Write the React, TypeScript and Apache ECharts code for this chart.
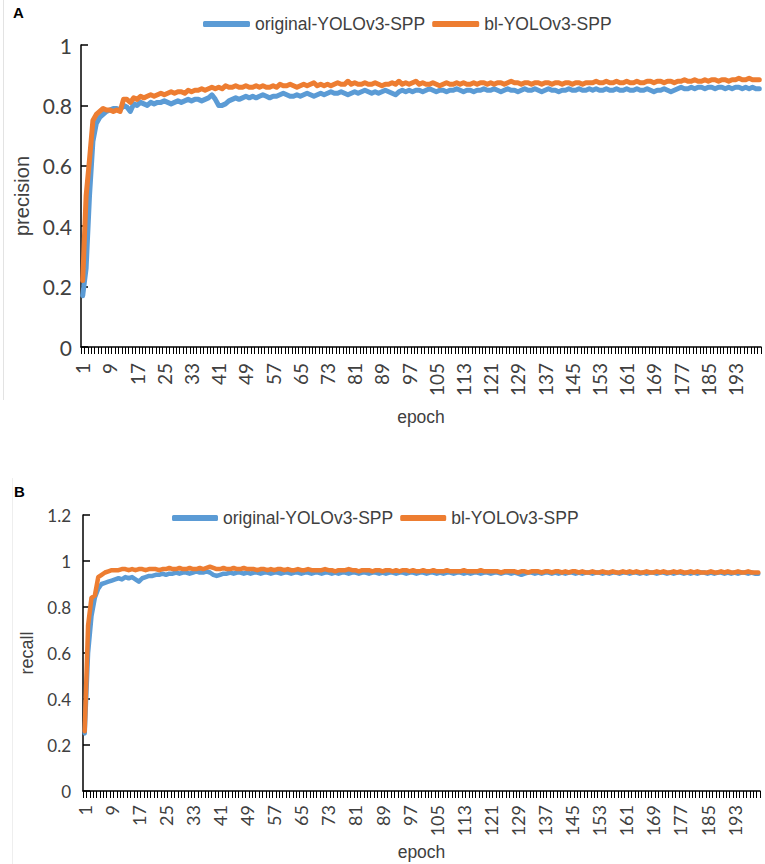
import React, { useEffect, useRef } from "react";
import * as echarts from "echarts";

const epochs: string[] = Array.from({ length: 200 }, (_, i) => String(i + 1));

const seriesNames = ["original-YOLOv3-SPP", "bl-YOLOv3-SPP"];

const precisionOriginal = [
  0.17,0.26,0.50,0.68,0.74,0.76,0.77,0.78,0.785,0.79,
  0.79,0.785,0.80,0.795,0.78,0.805,0.80,0.81,0.805,0.80,
  0.81,0.805,0.81,0.81,0.815,0.81,0.805,0.81,0.815,0.81,
  0.815,0.82,0.815,0.82,0.82,0.815,0.82,0.825,0.835,0.82,
  0.80,0.80,0.805,0.815,0.82,0.825,0.82,0.825,0.83,0.825,
  0.83,0.825,0.83,0.835,0.83,0.825,0.83,0.83,0.835,0.84,
  0.835,0.83,0.83,0.835,0.83,0.835,0.84,0.835,0.83,0.835,
  0.84,0.835,0.84,0.845,0.84,0.84,0.845,0.84,0.835,0.84,
  0.845,0.84,0.845,0.85,0.845,0.84,0.845,0.84,0.845,0.85,
  0.845,0.84,0.835,0.845,0.85,0.845,0.85,0.845,0.85,0.85,
  0.845,0.85,0.855,0.85,0.845,0.85,0.85,0.845,0.85,0.85,
  0.855,0.85,0.845,0.85,0.85,0.845,0.85,0.85,0.855,0.85,
  0.85,0.855,0.85,0.845,0.85,0.855,0.85,0.85,0.845,0.85,
  0.855,0.85,0.85,0.855,0.85,0.845,0.85,0.855,0.85,0.85,
  0.845,0.85,0.85,0.855,0.85,0.85,0.855,0.85,0.85,0.855,
  0.85,0.855,0.85,0.85,0.855,0.85,0.85,0.855,0.85,0.85,
  0.855,0.85,0.85,0.855,0.85,0.85,0.855,0.85,0.845,0.85,
  0.85,0.855,0.85,0.845,0.85,0.855,0.86,0.855,0.855,0.86,
  0.855,0.86,0.86,0.855,0.86,0.86,0.855,0.86,0.86,0.855,
  0.86,0.855,0.86,0.86,0.855,0.86,0.855,0.86,0.855,0.855,
];

const precisionBl = [
  0.22,0.50,0.62,0.75,0.77,0.78,0.79,0.785,0.785,0.78,
  0.785,0.78,0.82,0.82,0.81,0.825,0.82,0.83,0.825,0.83,
  0.835,0.83,0.835,0.84,0.835,0.84,0.845,0.84,0.845,0.845,
  0.84,0.85,0.845,0.85,0.85,0.855,0.85,0.855,0.86,0.855,
  0.86,0.855,0.865,0.86,0.86,0.865,0.86,0.86,0.865,0.86,
  0.86,0.865,0.86,0.865,0.86,0.86,0.865,0.86,0.87,0.865,
  0.865,0.87,0.865,0.86,0.865,0.87,0.865,0.87,0.875,0.865,
  0.87,0.865,0.87,0.865,0.87,0.875,0.87,0.87,0.88,0.87,
  0.875,0.87,0.87,0.875,0.87,0.87,0.875,0.87,0.865,0.87,
  0.87,0.875,0.87,0.88,0.87,0.875,0.87,0.875,0.88,0.87,
  0.875,0.87,0.87,0.875,0.87,0.865,0.87,0.875,0.87,0.87,
  0.875,0.87,0.875,0.87,0.87,0.875,0.87,0.875,0.875,0.87,
  0.875,0.87,0.875,0.875,0.87,0.875,0.88,0.875,0.875,0.87,
  0.875,0.875,0.87,0.875,0.875,0.87,0.875,0.875,0.87,0.875,
  0.875,0.87,0.875,0.875,0.87,0.875,0.875,0.87,0.875,0.875,
  0.875,0.88,0.875,0.875,0.88,0.875,0.875,0.88,0.875,0.875,
  0.88,0.875,0.875,0.88,0.875,0.875,0.88,0.88,0.875,0.88,
  0.88,0.875,0.88,0.88,0.875,0.88,0.88,0.885,0.88,0.88,
  0.885,0.88,0.88,0.885,0.88,0.885,0.885,0.88,0.885,0.885,
  0.88,0.885,0.885,0.89,0.885,0.885,0.89,0.885,0.885,0.885,
];

const recallOriginal = [
  0.25,0.60,0.76,0.84,0.88,0.90,0.905,0.91,0.915,0.92,
  0.925,0.92,0.93,0.925,0.93,0.92,0.91,0.925,0.93,0.935,
  0.935,0.94,0.94,0.945,0.94,0.945,0.945,0.95,0.945,0.95,
  0.95,0.945,0.95,0.955,0.95,0.95,0.955,0.95,0.94,0.935,
  0.94,0.945,0.945,0.95,0.945,0.95,0.95,0.945,0.95,0.945,
  0.95,0.95,0.945,0.95,0.95,0.945,0.95,0.95,0.945,0.95,
  0.95,0.945,0.95,0.95,0.945,0.95,0.95,0.945,0.95,0.95,
  0.945,0.95,0.95,0.945,0.95,0.945,0.95,0.95,0.945,0.95,
  0.95,0.945,0.95,0.95,0.945,0.95,0.95,0.945,0.95,0.945,
  0.95,0.95,0.945,0.95,0.95,0.945,0.95,0.95,0.945,0.95,
  0.95,0.945,0.95,0.95,0.945,0.95,0.945,0.95,0.95,0.945,
  0.95,0.95,0.945,0.95,0.945,0.95,0.95,0.945,0.95,0.95,
  0.945,0.95,0.95,0.945,0.95,0.95,0.945,0.95,0.945,0.94,
  0.945,0.95,0.95,0.945,0.95,0.945,0.95,0.95,0.945,0.95,
  0.945,0.95,0.945,0.95,0.95,0.945,0.95,0.945,0.95,0.95,
  0.945,0.95,0.95,0.945,0.95,0.945,0.95,0.95,0.945,0.95,
  0.95,0.945,0.95,0.95,0.945,0.95,0.945,0.95,0.95,0.945,
  0.95,0.95,0.945,0.95,0.945,0.95,0.95,0.945,0.95,0.945,
  0.95,0.945,0.95,0.95,0.945,0.95,0.945,0.95,0.95,0.945,
  0.95,0.945,0.95,0.945,0.95,0.95,0.945,0.95,0.945,0.945,
];

const recallBl = [
  0.26,0.72,0.84,0.85,0.93,0.94,0.95,0.955,0.96,0.96,
  0.96,0.965,0.965,0.96,0.965,0.96,0.965,0.965,0.96,0.965,
  0.965,0.965,0.96,0.965,0.965,0.97,0.965,0.965,0.97,0.965,
  0.965,0.97,0.965,0.965,0.97,0.965,0.97,0.975,0.97,0.965,
  0.965,0.97,0.965,0.965,0.97,0.965,0.965,0.97,0.965,0.965,
  0.965,0.96,0.965,0.965,0.96,0.965,0.96,0.965,0.965,0.96,
  0.965,0.96,0.96,0.965,0.96,0.96,0.965,0.96,0.96,0.96,
  0.96,0.965,0.96,0.96,0.955,0.96,0.96,0.96,0.965,0.96,
  0.96,0.955,0.96,0.96,0.96,0.955,0.96,0.96,0.955,0.96,
  0.96,0.955,0.96,0.955,0.96,0.96,0.955,0.96,0.955,0.955,
  0.96,0.955,0.955,0.96,0.955,0.955,0.955,0.96,0.955,0.955,
  0.955,0.955,0.96,0.955,0.955,0.955,0.955,0.96,0.955,0.955,
  0.955,0.955,0.955,0.95,0.955,0.955,0.955,0.955,0.95,0.955,
  0.955,0.95,0.955,0.955,0.955,0.95,0.955,0.955,0.95,0.955,
  0.955,0.95,0.955,0.95,0.955,0.955,0.95,0.955,0.95,0.95,
  0.955,0.95,0.95,0.955,0.95,0.95,0.955,0.95,0.95,0.955,
  0.95,0.955,0.95,0.955,0.95,0.95,0.955,0.95,0.95,0.955,
  0.95,0.955,0.95,0.95,0.955,0.95,0.955,0.95,0.95,0.955,
  0.95,0.955,0.95,0.95,0.95,0.955,0.95,0.95,0.955,0.95,
  0.955,0.95,0.95,0.955,0.95,0.95,0.955,0.95,0.95,0.95,
];

const BLUE = "#5B9BD5";
const ORANGE = "#ED7D31";
const TXT = "#404040";
const LABEL_FONT = "Lato, 'Noto Sans', sans-serif";
const NAME_FONT = "'Liberation Sans', Arial, sans-serif";

export default function App() {
  const ref = useRef<HTMLDivElement>(null);
  useEffect(() => {
    if (!ref.current) return;
    const chart = echarts.init(ref.current, null, { renderer: "svg" });

    const xAxisCommon = (gridIndex: number, labelSize: number, nameGap: number, margin: number) => ({
      type: "category",
      gridIndex,
      data: epochs,
      boundaryGap: true,
      name: "epoch",
      nameLocation: "middle",
      nameGap,
      nameTextStyle: { fontFamily: NAME_FONT, fontSize: 17.5, color: TXT },
      axisLine: { lineStyle: { color: "#000", width: 1.5 } },
      axisTick: { show: true, interval: 0, length: 7, lineStyle: { color: "#000", width: 1 } },
      axisLabel: {
        interval: 7,
        rotate: 90,
        margin,
        fontFamily: LABEL_FONT,
        fontSize: labelSize,
        color: TXT,
      },
      splitLine: { show: false },
    });

    const yAxisCommon = (gridIndex: number, max: number, labelSize: number, name: string, nameSize: number, nameGap: number, margin: number) => ({
      type: "value",
      gridIndex,
      min: 0,
      max,
      interval: 0.2,
      name,
      nameLocation: "middle",
      nameGap,
      nameTextStyle: { fontFamily: NAME_FONT, fontSize: nameSize, color: TXT },
      axisLine: { show: true, lineStyle: { color: "#000", width: 1.5 } },
      axisTick: { show: true, inside: true, length: 7, lineStyle: { color: "#000", width: 1.5 } },
      axisLabel: { fontFamily: LABEL_FONT, fontSize: labelSize, color: TXT, margin },
      splitLine: { show: false },
    });

    const lineSeries = (name: string, data: number[], color: string, idx: number, width: number) => ({
      type: "line",
      name,
      data,
      xAxisIndex: idx,
      yAxisIndex: idx,
      showSymbol: false,
      symbol: "none",
      lineStyle: { color, width, cap: "round", join: "round" },
      itemStyle: { color },
      z: color === ORANGE ? 3 : 2,
    });

    chart.setOption({
      animation: false,
      backgroundColor: "#fff",
      grid: [
        { left: 81, top: 45, width: 680, height: 302, containLabel: false },
        { left: 83, top: 515, width: 677, height: 276, containLabel: false },
      ],
      legend: [
        {
          left: 203,
          top: 14,
          padding: 0,
          itemWidth: 47,
          itemHeight: 6,
          itemGap: 7,
          icon: "roundRect",
          data: seriesNames,
          textStyle: { fontFamily: NAME_FONT, fontSize: 17.5, color: TXT, lineHeight: 20 },
        },
        {
          left: 172,
          top: 508,
          padding: 0,
          itemWidth: 46,
          itemHeight: 6,
          itemGap: 7,
          icon: "roundRect",
          data: seriesNames,
          textStyle: { fontFamily: NAME_FONT, fontSize: 17.5, color: TXT, lineHeight: 20 },
        },
      ],
      xAxis: [xAxisCommon(0, 19, 61, 16), xAxisCommon(1, 18, 52, 14)],
      yAxis: [
        yAxisCommon(0, 1, 21, "precision", 20, 40, 9),
        yAxisCommon(1, 1.2, 17, "recall", 18, 45, 12),
      ],
      series: [
        lineSeries(seriesNames[0], precisionOriginal, BLUE, 0, 5),
        lineSeries(seriesNames[1], precisionBl, ORANGE, 0, 5),
        lineSeries(seriesNames[0], recallOriginal, BLUE, 1, 4.5),
        lineSeries(seriesNames[1], recallBl, ORANGE, 1, 4.5),
      ],
      graphic: [
        { type: "line", shape: { x1: 3.5, y1: 0, x2: 3.5, y2: 400 }, style: { stroke: "#e3e3e3", lineWidth: 1 } },
        { type: "line", shape: { x1: 12.5, y1: 478, x2: 12.5, y2: 864 }, style: { stroke: "#eeeeee", lineWidth: 1 } },
        { type: "text", left: 13, top: 5, style: { text: "A", font: "bold 15px 'Liberation Sans', Arial, sans-serif", fill: "#000" } },
        { type: "text", left: 14, top: 484, style: { text: "B", font: "bold 15px 'Liberation Sans', Arial, sans-serif", fill: "#000" } },
      ],
    });

    return () => chart.dispose();
  }, []);

  return (
    <div
      ref={ref}
      style={{ position: "fixed", left: 0, top: 0, width: 765, height: 864, background: "#fff" }}
    />
  );
}
